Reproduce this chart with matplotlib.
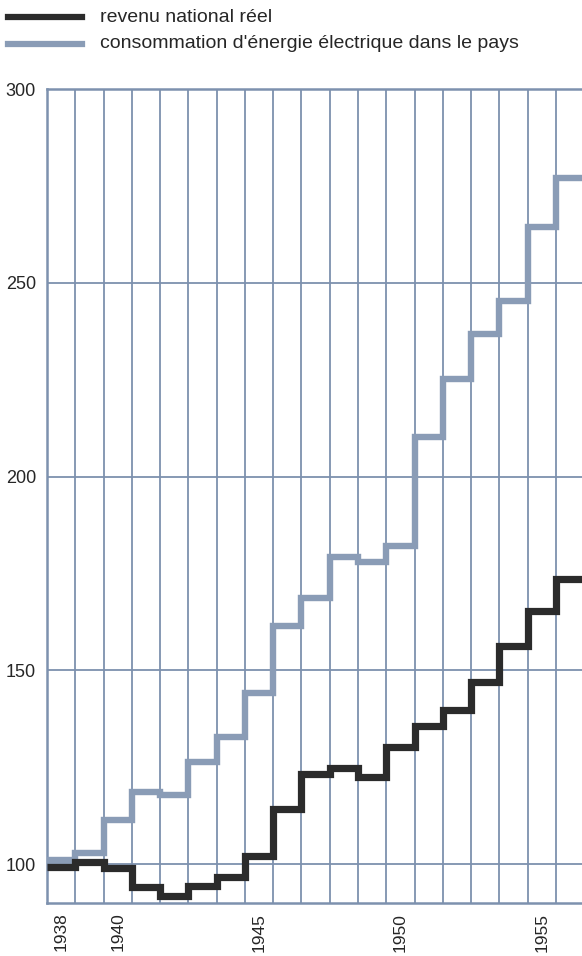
import numpy as np
import matplotlib.pyplot as plt
from matplotlib.lines import Line2D

plt.rcParams['font.family'] = ['Liberation Sans', 'DejaVu Sans']

years = np.arange(1938, 1957)
revenu = [99.2, 100.6, 99.0, 94.1, 91.7, 94.3, 96.7, 102.1, 114.2, 123.4,
          124.8, 122.5, 130.3, 135.6, 139.9, 147.1, 156.3, 165.4, 173.5]
energie = [101.0, 102.8, 111.4, 118.7, 117.8, 126.4, 132.7, 144.1, 161.4, 168.8,
           179.2, 177.9, 182.2, 210.3, 225.1, 236.8, 245.4, 264.5, 277.0]
year_labels = [1938, 1940, 1945, 1950, 1955]
y_ticks = [100, 150, 200, 250, 300]

grid_col = '#7d91ae'
gray_col = '#8a9cb6'
black_col = '#2b2b2b'
text_col = '#262626'

fig = plt.figure(figsize=(5.82, 9.56), dpi=100)
ax = fig.add_axes([47/582, 53/956, 1 - 47/582, (903-89)/956])

edges = np.append(years - 0.5, years[-1] + 0.5)
ax.stairs(energie, edges, baseline=None, color=gray_col, lw=4.6, zorder=3)
ax.stairs(revenu, edges, baseline=None, color=black_col, lw=5.2, zorder=4)

ax.set_xlim(1937.5, 1956.42)
ax.set_ylim(90, 300)

# grid: a vertical line between every year, horizontal every 50
for x in edges[1:-1]:
    ax.axvline(x, color=grid_col, lw=1.3, zorder=1)
for y in y_ticks:
    ax.axhline(y, color=grid_col, lw=1.3, zorder=1)

for s in ['left', 'bottom', 'top']:
    ax.spines[s].set_color(grid_col)
    ax.spines[s].set_linewidth(1.8)
ax.spines['right'].set_visible(False)

ax.set_yticks(y_ticks)
ax.set_yticklabels([str(v) for v in y_ticks], fontsize=13, color=text_col)
ax.set_xticks(year_labels)
ax.set_xticklabels([str(v) for v in year_labels], rotation=90, fontsize=12.5,
                   color=text_col)
ax.tick_params(axis='y', length=0, pad=8)
ax.tick_params(axis='x', length=0, pad=7)

# legend
fig.add_artist(Line2D([8/582, 82/582], [1 - 17/956, 1 - 17/956], color=black_col, lw=4.5))
fig.add_artist(Line2D([8/582, 82/582], [1 - 44/956, 1 - 44/956], color=gray_col, lw=4.5))
fig.text(100/582, 1 - 17/956, 'revenu national réel', fontsize=14, color=text_col,
         va='center', ha='left')
fig.text(100/582, 1 - 44/956, "consommation d'énergie électrique dans le pays",
         fontsize=14, color=text_col, va='center', ha='left')

fig.savefig('out.png', dpi=100)
